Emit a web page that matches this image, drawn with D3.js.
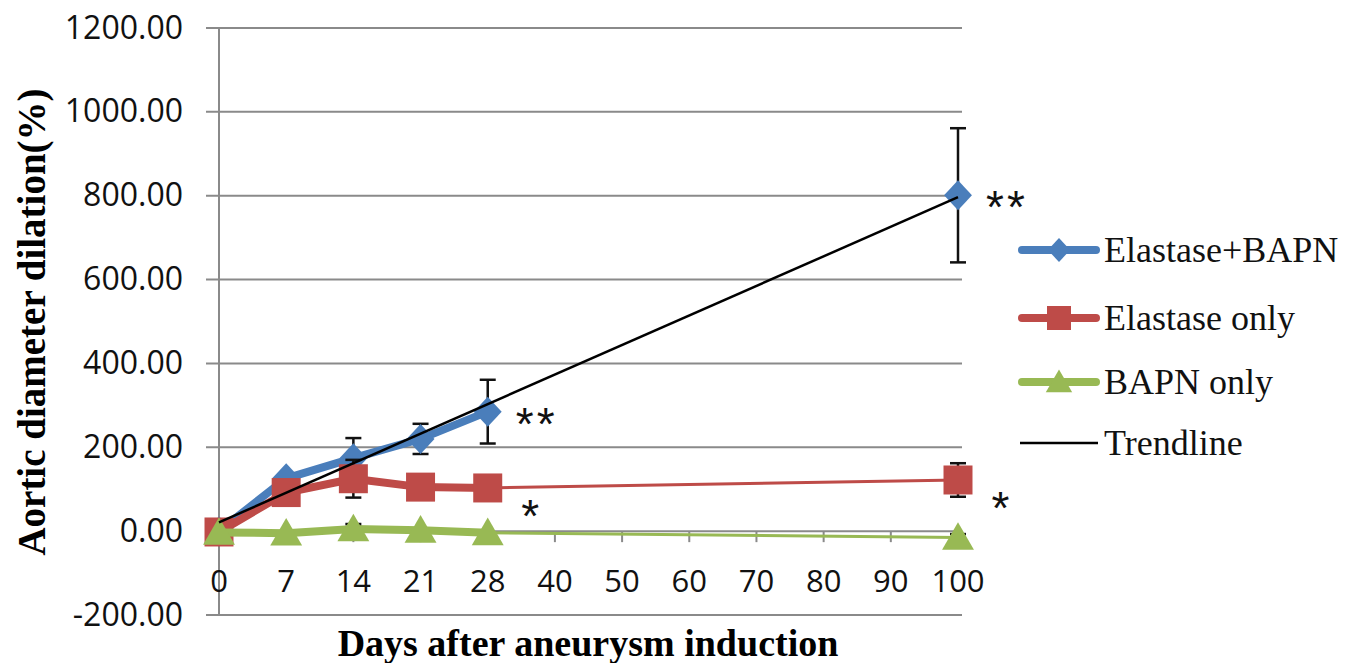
<!DOCTYPE html>
<html>
<head>
<meta charset="utf-8">
<script src="https://cdn.jsdelivr.net/npm/d3@7"></script>
<style>
  body { margin: 0; background: #fff; }
  svg { display: block; }
</style>
</head>
<body>
<script>
// categories on the x axis (Excel category axis, equally spaced)
var categories = ["0", "7", "14", "21", "28", "40", "50", "60", "70", "80", "90", "100"];
var yTicks = [-200, 0, 200, 400, 600, 800, 1000, 1200];

// days that have measurements
var days = ["0", "7", "14", "21", "28", "100"];
var elastaseBapn = [0, 126, 174, 220, 285, 801];
var elastaseBapnErr = [0, 12, 48, 36, 76, 160];
var elastaseOnly = [-2, 92, 125, 105, 103, 122];
var elastaseOnlyErr = [0, 10, 45, 10, 10, 40];
var bapnOnly = [-3, -5, 5, 2, -4, -15];
var bapnOnlyErr = [0, 0, 12, 0, 0, 8];

var seriesNames = ["Elastase+BAPN", "Elastase only", "BAPN only"];
var seriesColors = ["#4a7ebb", "#be4b48", "#98b954"];
var seriesShapes = ["diamond", "square", "triangle"];

// significance marks: [series index, day, text]
var marks = [[0, "100", "**"], [0, "28", "**"], [1, "28", "*"], [1, "100", "*"]];

window.onload = function()
{
  var width = 1352, height = 663;
  var svg = d3.select("body").append("svg")
    .attr("width", width)
    .attr("height", height);

  var x = d3.scalePoint().domain(categories).range([219, 958]);
  var y = d3.scaleLinear().domain([-200, 1200]).range([615, 28]);

  var gridColor = "#8a8a8a";

  // horizontal gridlines (+ outside tick on the value axis)
  svg.append("g").selectAll("line")
    .data(yTicks)
    .enter().append("line")
    .attr("x1", 206).attr("x2", 962)
    .attr("y1", function(d) { return y(d); })
    .attr("y2", function(d) { return y(d); })
    .attr("stroke", gridColor)
    .attr("stroke-width", 2);

  // vertical value axis line at category 0
  svg.append("line")
    .attr("x1", x("0")).attr("x2", x("0"))
    .attr("y1", y(1200)).attr("y2", y(-200))
    .attr("stroke", gridColor).attr("stroke-width", 2);

  // category tick marks on the zero line
  svg.append("g").selectAll("line")
    .data(categories)
    .enter().append("line")
    .attr("x1", function(d) { return x(d); })
    .attr("x2", function(d) { return x(d); })
    .attr("y1", y(0)).attr("y2", y(0) + 11)
    .attr("stroke", gridColor).attr("stroke-width", 2);

  // y tick labels
  svg.append("g").selectAll("text")
    .data(yTicks)
    .enter().append("text")
    .attr("x", 183)
    .attr("y", function(d) { return y(d) + 10.5; })
    .attr("text-anchor", "end")
    .style("font-family", "Open Sans")
    .style("font-size", "32px")
    .attr("fill", "#111")
    .text(function(d) { return d3.format(".2f")(d).replace("\u2212", "-"); });

  // x tick labels
  svg.append("g").selectAll("text")
    .data(categories)
    .enter().append("text")
    .attr("x", function(d) { return x(d); })
    .attr("y", 592)
    .attr("text-anchor", "middle")
    .style("font-family", "Open Sans")
    .style("font-size", "31px")
    .attr("fill", "#111")
    .text(function(d) { return d; });

  // axis titles
  svg.append("text")
    .attr("transform", "translate(45,322) rotate(-90)")
    .attr("text-anchor", "middle")
    .style("font-family", "Liberation Serif")
    .style("font-weight", "bold")
    .style("font-size", "39px")
    .text("Aortic diameter dilation(%)");

  svg.append("text")
    .attr("x", 588).attr("y", 656)
    .attr("text-anchor", "middle")
    .style("font-family", "Liberation Serif")
    .style("font-weight", "bold")
    .style("font-size", "38px")
    .text("Days after aneurysm induction");

  function shapePath(shape, s)
  {
    if (shape == "diamond") return "M0," + (-s) + "L" + (s * 0.93) + ",0L0," + s + "L" + (-s * 0.93) + ",0Z";
    if (shape == "square") return "M" + (-s) + "," + (-s) + "H" + s + "V" + s + "H" + (-s) + "Z";
    return "M0," + (-s * 1.05) + "L" + (s * 1.1) + "," + (s * 0.85) + "H" + (-s * 1.1) + "Z";
  }

  var values = [elastaseBapn, elastaseOnly, bapnOnly];
  var errors = [elastaseBapnErr, elastaseOnlyErr, bapnOnlyErr];
  var markerSize = [15, 14.5, 14.5];
  var line = d3.line()
    .x(function(d) { return x(d.day); })
    .y(function(d) { return y(d.v); })
    .curve(d3.curveLinear);

  for (var s = 0; s < values.length; s++)
  {
    var pts = days.map(function(d, i) { return { day: d, v: values[s][i], e: errors[s][i] }; });
    var early = pts.slice(0, 5);
    var g = svg.append("g");

    // thin connector across the empty categories (not for the BAPN+elastase series)
    if (s > 0)
    {
      g.append("path")
        .attr("d", line(pts.slice(4)))
        .attr("fill", "none")
        .attr("stroke", seriesColors[s])
        .attr("stroke-width", 3);
    }
    g.append("path")
      .attr("d", line(early))
      .attr("fill", "none")
      .attr("stroke", seriesColors[s])
      .attr("stroke-width", 8)
      .attr("stroke-linejoin", "round")
      .attr("stroke-linecap", "round");

    // error bars
    var eb = g.selectAll(".err")
      .data(pts.filter(function(d) { return d.e > 0; }))
      .enter().append("g");
    eb.append("line")
      .attr("x1", function(d) { return x(d.day); })
      .attr("x2", function(d) { return x(d.day); })
      .attr("y1", function(d) { return y(d.v + d.e); })
      .attr("y2", function(d) { return y(d.v - d.e); })
      .attr("stroke", "#111").attr("stroke-width", 2.5);
    eb.selectAll("line.cap")
      .data(function(d) { return [[d.day, d.v + d.e], [d.day, d.v - d.e]]; })
      .enter().append("line")
      .attr("x1", function(d) { return x(d[0]) - 8; })
      .attr("x2", function(d) { return x(d[0]) + 8; })
      .attr("y1", function(d) { return y(d[1]); })
      .attr("y2", function(d) { return y(d[1]); })
      .attr("stroke", "#111").attr("stroke-width", 2.5);

    // markers
    g.selectAll("path.mk")
      .data(pts)
      .enter().append("path")
      .attr("d", shapePath(seriesShapes[s], markerSize[s]))
      .attr("transform", function(d) { return "translate(" + x(d.day) + "," + y(d.v) + ")"; })
      .attr("fill", seriesColors[s]);
  }

  // linear trendline of the Elastase+BAPN series over category index
  var idx = days.map(function(d) { return categories.indexOf(d); });
  var mx = d3.mean(idx), my = d3.mean(elastaseBapn);
  var sxy = d3.sum(idx, function(v, i) { return (v - mx) * (elastaseBapn[i] - my); });
  var sxx = d3.sum(idx, function(v) { return (v - mx) * (v - mx); });
  var slope = sxy / sxx, icpt = my - slope * mx;
  var last = categories.length - 1;
  svg.append("line")
    .attr("x1", x(categories[0])).attr("y1", y(icpt))
    .attr("x2", x(categories[last])).attr("y2", y(icpt + slope * last))
    .attr("stroke", "#000").attr("stroke-width", 2.5);

  // significance asterisks
  svg.append("g").selectAll("text")
    .data(marks)
    .enter().append("text")
    .attr("x", function(d) { return x(d[1]) + (d[2] == "**" ? 49 : 44); })
    .attr("y", function(d) {
      var v = values[d[0]][days.indexOf(d[1])];
      return y(v) + (d[2] == "**" ? 28 : 44);
    })
    .attr("text-anchor", "middle")
    .style("font-family", "Liberation Sans")
    .style("font-size", "46px")
    .style("letter-spacing", "3px")
    .attr("fill", "#111")
    .text(function(d) { return d[2]; });

  // legend
  var legendNames = seriesNames.concat(["Trendline"]);
  var legendY = [250, 318, 382, 443];
  var lg = svg.append("g").selectAll("g")
    .data(legendNames)
    .enter().append("g")
    .attr("transform", function(d, i) { return "translate(0," + legendY[i] + ")"; });
  lg.append("line")
    .attr("x1", function(d, i) { return i < 3 ? 1022 : 1020; })
    .attr("x2", function(d, i) { return i < 3 ? 1096 : 1098; })
    .attr("stroke", function(d, i) { return i < 3 ? seriesColors[i] : "#000"; })
    .attr("stroke-width", function(d, i) { return i < 3 ? 8 : 2.5; })
    .attr("stroke-linecap", function(d, i) { return i < 3 ? "round" : "butt"; });
  lg.filter(function(d, i) { return i < 3; })
    .append("path")
    .attr("d", function(d, i) { return shapePath(seriesShapes[i], 12); })
    .attr("transform", "translate(1059,0)")
    .attr("fill", function(d, i) { return seriesColors[i]; });
  lg.append("text")
    .attr("x", 1104).attr("y", 12)
    .style("font-family", "Liberation Serif")
    .style("font-size", "36px")
    .attr("fill", "#111")
    .text(function(d) { return d; });
};
</script>
</body>
</html>
